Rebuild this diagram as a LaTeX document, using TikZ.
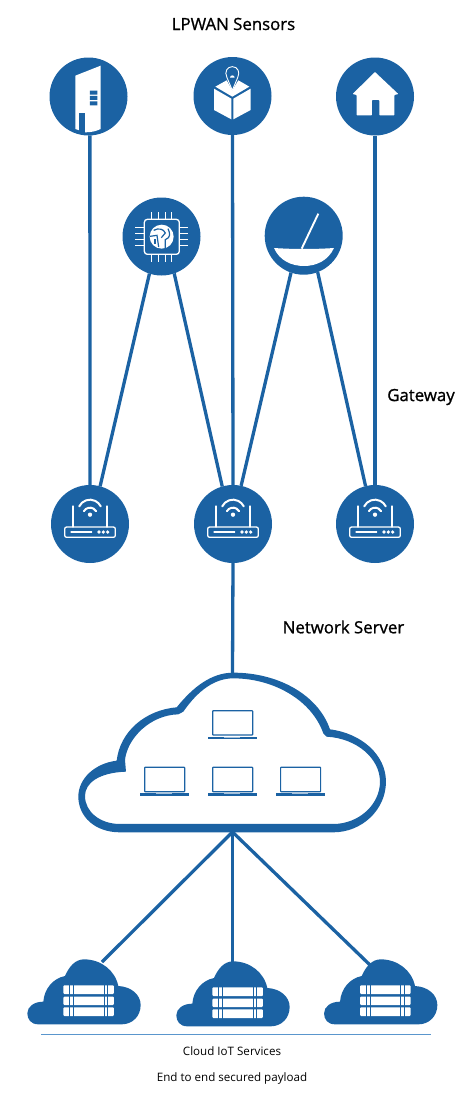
\documentclass[tikz,border=0pt]{standalone}
\usepackage{fontspec}
\setmainfont{Open Sans}
\newfontfamily\headf[FakeBold=1]{Open Sans}
\definecolor{iotblue}{RGB}{27,98,163}
\definecolor{rulecol}{RGB}{90,150,205}
\tikzset{
  disc/.style={circle,fill=iotblue,minimum size=78pt,inner sep=0pt,outer sep=0pt},
  link/.style={draw=iotblue,line width=3.3pt},
  head/.style={font=\headf\fontsize{16.8}{19}\selectfont,text=black,inner sep=0pt},
  small/.style={font=\fontsize{11.6}{14}\selectfont,text=black,inner sep=0pt},
  wline/.style={draw=white,line width=1.3pt},
  router/.pic={
    \begin{scope}[x=.3333pt,y=-.3333pt,shift={(-120,-120)},line cap=round]
      \draw[wline,rounded corners=2pt] (44,129) rectangle (196,160);
      \draw[wline] (69,66) -- (69,129);
      \draw[wline] (171,66) -- (171,129);
      \draw[wline] (63,144) -- (125,144);
      \fill[white] (147,144) circle (5.5) (160,144) circle (5.5) (173,144) circle (5.5);
      \draw[white,line width=2pt] (87.6,67.2) arc[start angle=-154,end angle=-26,radius=36];
      \draw[white,line width=2pt] (101.8,81.5) arc[start angle=-150,end angle=-30,radius=21];
      \fill[white] (120,92) circle (6.5);
    \end{scope}
  },
  laptop/.pic={
    \begin{scope}[x=.3333pt,y=-.3333pt]
      \draw[iotblue,line width=1.2pt,rounded corners=.6pt] (2,2) rectangle (122,75);
      \fill[iotblue] (-12,80) rectangle (134,88);
      \fill[white!60!iotblue] (35,80) rectangle (85,83);
    \end{scope}
  },
  minicloud/.pic={
    \begin{scope}[x=.3333pt,y=-.3333pt]
      \fill[iotblue] (85,223) .. controls (63,223) and (52,208) .. (52,190)
        .. controls (52,170) and (72,155) .. (100,155)
        .. controls (103,115) and (130,85) .. (165,78)
        .. controls (178,48) and (197,28) .. (222,28)
        .. controls (272,28) and (315,60) .. (325,108)
        .. controls (365,110) and (392,135) .. (392,165)
        .. controls (392,198) and (368,223) .. (335,223) -- cycle;
      \fill[white,rounded corners=1pt] (160,106) rectangle (312,132)
        (160,140) rectangle (312,165) (160,172) rectangle (312,198);
      \draw[iotblue,line width=.55pt] (178,100) -- (178,204) (190,100) -- (190,204)
        (282,100) -- (282,204) (292,100) -- (292,204);
    \end{scope}
  }
}
\begin{document}
\begin{tikzpicture}[x=1pt,y=-1pt]
\useasboundingbox (0,0) rectangle (464,1100);
% sensor and gateway discs
\node[disc] (s1) at (88.5,96.5) {};
\node[disc] (s2) at (232.5,96) {};
\node[disc] (s3) at (375,96.5) {};
\node[disc] (chip) at (161.5,236.5) {};
\node[disc] (dish) at (303.7,235.7) {};
\node[disc] (r1) at (90,524) {};
\node[disc] (r2) at (233,524) {};
\node[disc] (r3) at (375,524) {};
\coordinate (cloudtop) at (232.5,673);
\coordinate (hub) at (232.5,832);
\coordinate (c1) at (102,962);
\coordinate (c2) at (232.5,962);
\coordinate (c3) at (370,965);
\coordinate (ruleL) at (41,1034.7);
\coordinate (ruleR) at (431,1034.7);
% connectors
\draw[link] (s1.-88) -- (r1.north);
\draw[link] (s2.south) -- (r2.north);
\draw[link] (s3.south) -- (r3.north);
\draw[link] (chip.-108) -- (r1.75);
\draw[link] (chip.-71) -- (r2.106);
\draw[link] (dish.-109) -- (r2.78);
\draw[link] (dish.-69) -- (r3.104);
\draw[link] (r2.south) -- (cloudtop);
\draw[link] (hub) -- (c1);
\draw[link] (hub) -- (c2);
\draw[link] (hub) -- (c3);
\draw[rulecol,line width=.9pt] (ruleL) -- (ruleR);
% building
\begin{scope}[shift={(50,55)},x=.3333pt,y=-.3333pt]
  \fill[white] (76,62) -- (152,32) -- (152,222) .. controls (140,228) and (125,232) .. (106,232) -- (76,222) -- cycle;
  \fill[iotblue] (88,175) rectangle (106,236);
  \fill[iotblue] (120,107) rectangle (142,119) (120,123) rectangle (142,135) (120,139) rectangle (142,151);
\end{scope}
% box with pin
\begin{scope}[shift={(190,55)},x=.3333pt,y=-.3333pt]
  \fill[white] (72,101) -- (124,131) -- (124,193) -- (72,165) -- cycle;
  \fill[white] (130,131) -- (182,101) -- (182,165) -- (130,193) -- cycle;
  \fill[white] (76,95) -- (110,76) -- (127,106) -- (145,76) -- (178,95) -- (127,125) -- cycle;
  \draw[white,fill=iotblue,line width=.9pt,line join=round] (127,106) -- (111,68) .. controls (102,50) and (112,35) .. (127,35) .. controls (142,35) and (152,50) .. (143,68) -- cycle;
  \fill[white] (120,68) arc[start angle=180,end angle=360,radius=7] -- cycle;
\end{scope}
% house
\begin{scope}[shift={(30,0)},x=.3333pt,y=-.3333pt]
  \fill[white,rounded corners=.6pt] (968,282) -- (1035,216) -- (1105,282) -- (1093,285) -- (1093,346) -- (1048,346) -- (1048,300) -- (1026,300) -- (1026,346) -- (980,346) -- (980,285) -- cycle;
\end{scope}
% chip
\begin{scope}[shift={(122,197)},x=.3333pt,y=-.3333pt]
  \draw[wline,rounded corners=3pt] (67,67) rectangle (172,172);
  \foreach \p in {88,110,130,150} {
    \draw[white,line width=1pt] (\p,45) -- (\p,67) (\p,172) -- (\p,195);
  }
  \foreach \p in {93,110,128,145} {
    \draw[white,line width=1pt] (40,\p) -- (67,\p) (172,\p) -- (198,\p);
  }
  \fill[white] (119,119) circle (36);
  \draw[iotblue,line width=1.2pt] (95,100) .. controls (110,92) and (125,96) .. (130,108) -- (118,122);
  \draw[iotblue,line width=1.2pt] (138,95) .. controls (145,110) and (146,122) .. (130,128) -- (130,156);
  \draw[iotblue,line width=1.2pt] (84,118) -- (105,115) -- (110,150);
  \fill[iotblue] (95,125) rectangle (103,140);
\end{scope}
% dish
\begin{scope}[shift={(260,192)},x=.3333pt,y=-.3333pt]
  \fill[white] (42,168) .. controls (100,172) and (165,172) .. (222,168) .. controls (205,205) and (170,222) .. (132,222) .. controls (94,222) and (58,205) .. (42,168) -- cycle;
  \draw[white,line width=1.9pt] (125,170) -- (175,65);
\end{scope}
% routers
\pic at (r1) {router};
\pic at (r2) {router};
\pic at (r3) {router};
% network server cloud
\begin{scope}[shift={(70,670)},x=.3333pt,y=-.3333pt]
  \fill[iotblue,even odd rule]
    (150,487) .. controls (75,487) and (25,440) .. (25,380)
    .. controls (25,325) and (75,280) .. (140,272)
    .. controls (150,185) and (225,120) .. (320,112)
    .. controls (370,50) and (425,8) .. (490,8)
    .. controls (625,8) and (745,75) .. (780,178)
    .. controls (875,190) and (948,255) .. (948,335)
    .. controls (948,420) and (875,487) .. (790,487) -- cycle
    (150,462) .. controls (90,462) and (45,425) .. (45,378)
    .. controls (45,340) and (85,308) .. (168,305)
    -- (165,270) .. controls (172,205) and (240,135) .. (325,133)
    -- (340,125) .. controls (385,60) and (435,25) .. (490,25)
    .. controls (610,25) and (725,90) .. (760,190)
    -- (770,200) .. controls (860,205) and (930,265) .. (930,335)
    .. controls (930,405) and (865,462) .. (790,462) -- cycle;
  \pic at (426,120) {laptop};
  \pic at (222,290) {laptop};
  \pic at (426,290) {laptop};
  \pic at (630,290) {laptop};
\end{scope}
% service clouds
\pic at (10,950) {minicloud};
\pic at (159,952) {minicloud};
\pic at (306.7,950) {minicloud};
% labels
\node[head] (t1) at (233.5,24) {LPWAN Sensors};
\node[head] (t2) at (421,397) {Gateway};
\node[head] (t3) at (343.5,627) {Network Server};
\node[small] (t4) at (232,1051) {Cloud IoT Services};
\node[small] (t5) at (232,1078) {End to end secured payload};
\end{tikzpicture}
\end{document}
